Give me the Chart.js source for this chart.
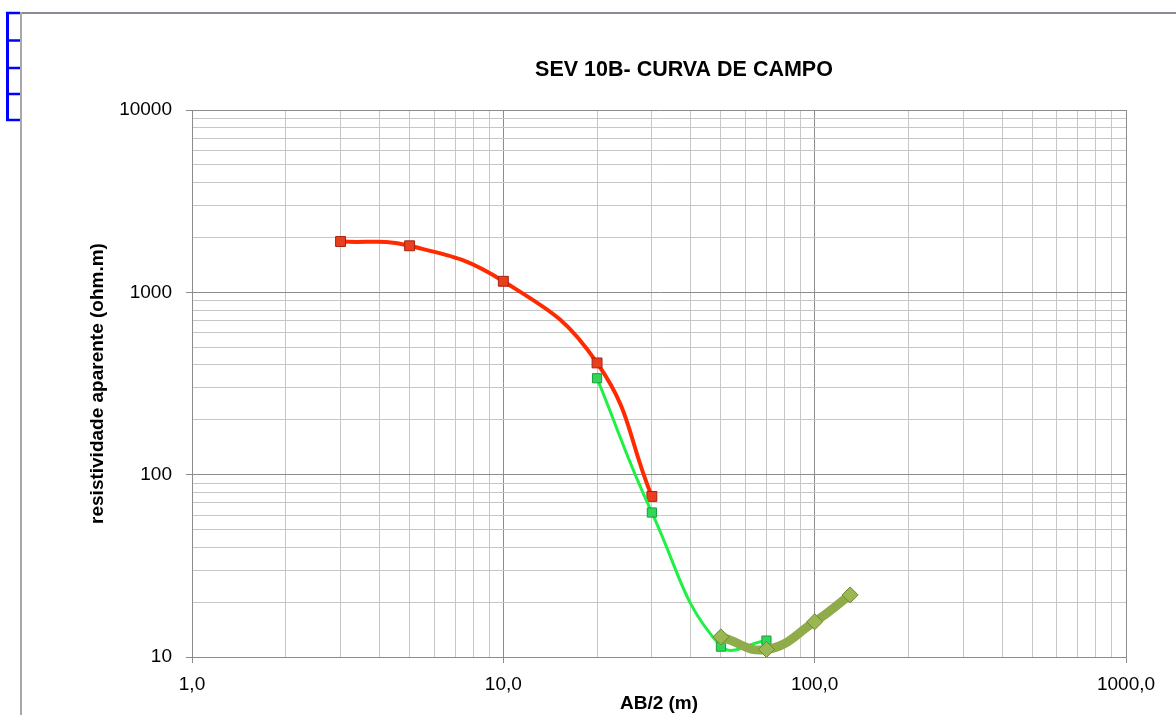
<!DOCTYPE html>
<html><head><meta charset="utf-8">
<script src="https://cdn.jsdelivr.net/npm/chart.js@4/dist/chart.umd.min.js"></script>
<style>html,body{margin:0;padding:0;background:#fff}canvas{display:block}</style>
</head><body>
<canvas id="c" width="1176" height="715"></canvas>
<script>
// ---- data ----
const chartTitle = 'SEV 10B- CURVA DE CAMPO';
const xAxisTitle = 'AB/2 (m)';
const yAxisTitle = 'resistividade aparente (ohm.m)';

const xMajorTicks = [1, 10, 100, 1000];
const xTickLabels = ['1,0', '10,0', '100,0', '1000,0'];
const yMajorTicks = [10, 100, 1000, 10000];
const yTickLabels = ['10', '100', '1000', '10000'];

const redX = [3, 5, 10, 20, 30];
const redY = [1900, 1800, 1150, 410, 76];
const greenX = [20, 30, 50, 70];
const greenY = [338, 62, 11.4, 12.3];
const oliveX = [50, 70, 100, 130];
const oliveY = [12.9, 11.0, 15.6, 21.9];

// ---- helpers ----
function toPoints(xs, ys) { return xs.map((x, i) => ({x: x, y: ys[i]})); }
function logTicks(majors) {
  const out = [];
  for (let i = 0; i < majors.length; i++) {
    out.push(majors[i]);
    if (i < majors.length - 1) for (let k = 2; k <= 9; k++) out.push(majors[i] * k);
  }
  return out;
}
function isMajor(v, majors) { return majors.some(m => Math.abs(m - v) < 1e-9 * m); }

const FONT = "'Liberation Sans', Arial, sans-serif";

const decor = {
  id: 'decor',
  beforeDraw(chart) {
    const ctx = chart.ctx;
    ctx.save();
    ctx.fillStyle = '#fff';
    ctx.fillRect(0, 0, chart.width, chart.height);
    // outer frame lines
    ctx.strokeStyle = '#8a8a98';
    ctx.lineWidth = 2;
    ctx.beginPath(); ctx.moveTo(20, 13); ctx.lineTo(chart.width, 13); ctx.stroke();
    ctx.strokeStyle = '#a8a8a8';
    ctx.beginPath(); ctx.moveTo(21, 12); ctx.lineTo(21, chart.height); ctx.stroke();
    // blue bracket
    ctx.strokeStyle = '#0000ff';
    ctx.lineWidth = 3;
    ctx.beginPath(); ctx.moveTo(7.5, 12); ctx.lineTo(7.5, 121); ctx.stroke();
    ctx.lineWidth = 2.5;
    [13, 40.5, 68, 94, 120].forEach(y => {
      ctx.beginPath(); ctx.moveTo(6, y); ctx.lineTo(20, y); ctx.stroke();
    });
    ctx.restore();
  },
  afterDraw(chart) {
    const ctx = chart.ctx;
    ctx.save();
    ctx.fillStyle = '#000';
    ctx.font = 'bold 21.5px ' + FONT;
    ctx.textAlign = 'center';
    ctx.textBaseline = 'middle';
    ctx.fillText(chartTitle, 684, 70);
    ctx.restore();
  }
};

function gridColor(majors) {
  return c => (c.tick && isMajor(c.tick.value, majors)) ? '#8c8c8c' : '#c6c6c6';
}
function tickColor(majors) {
  return c => (c.tick && isMajor(c.tick.value, majors)) ? '#8c8c8c' : 'rgba(0,0,0,0)';
}

new Chart(document.getElementById('c'), {
  type: 'line',
  data: {
    datasets: [
      {
        label: 'campo 3',
        data: toPoints(oliveX, oliveY),
        order: 0,
        borderColor: '#8fab4a',
        borderWidth: 9,
        tension: 0.45,
        pointStyle: 'rectRot',
        pointRadius: 8,
        pointBackgroundColor: '#9bb652',
        pointBorderColor: '#6e8a30',
        pointBorderWidth: 1,
        fill: false
      },
      {
        label: 'campo 2',
        data: toPoints(greenX, greenY),
        order: 1,
        borderColor: '#1ff046',
        borderWidth: 3,
        tension: 0.45,
        pointStyle: 'rect',
        pointRadius: 6.5,
        pointBackgroundColor: '#2fd659',
        pointBorderColor: '#18a03a',
        pointBorderWidth: 1,
        fill: false
      },
      {
        label: 'campo 1',
        data: toPoints(redX, redY),
        order: 2,
        borderColor: '#ff2a00',
        borderWidth: 4,
        tension: 0.45,
        pointStyle: 'rect',
        pointRadius: 7,
        pointBackgroundColor: '#e8401c',
        pointBorderColor: '#a82010',
        pointBorderWidth: 1,
        fill: false
      }
    ]
  },
  options: {
    responsive: false,
    animation: false,
    events: [],
    layout: {padding: {left: 86, top: 110, right: 50, bottom: 0}},
    plugins: {legend: {display: false}, title: {display: false}, tooltip: {enabled: false}},
    scales: {
      x: {
        type: 'logarithmic',
        min: xMajorTicks[0],
        max: xMajorTicks[xMajorTicks.length - 1],
        afterBuildTicks: s => { s.ticks = logTicks(xMajorTicks).map(v => ({value: v})); },
        afterFit: s => { s.height = 58; },
        ticks: {
          autoSkip: false, maxRotation: 0, minRotation: 0, padding: 10,
          color: '#000', font: {family: FONT, size: 19},
          callback: v => { const i = xMajorTicks.findIndex(m => Math.abs(m - v) < 1e-9 * m); return i >= 0 ? xTickLabels[i] : ''; }
        },
        grid: {color: gridColor(xMajorTicks), tickColor: tickColor(xMajorTicks), tickLength: 6, lineWidth: 1},
        border: {color: '#8c8c8c', width: 1},
        title: {display: true, text: xAxisTitle, color: '#000', font: {family: FONT, size: 19, weight: 'bold'}, padding: {top: 0, bottom: 0}}
      },
      y: {
        type: 'logarithmic',
        min: yMajorTicks[0],
        max: yMajorTicks[yMajorTicks.length - 1],
        afterBuildTicks: s => { s.ticks = logTicks(yMajorTicks).map(v => ({value: v})); },
        afterFit: s => { s.width = 106; },
        ticks: {
          autoSkip: false, padding: 14,
          color: '#000', font: {family: FONT, size: 19},
          callback: v => { const i = yMajorTicks.findIndex(m => Math.abs(m - v) < 1e-9 * m); return i >= 0 ? yTickLabels[i] : ''; }
        },
        grid: {color: gridColor(yMajorTicks), tickColor: tickColor(yMajorTicks), tickLength: 6, lineWidth: 1},
        border: {color: '#8c8c8c', width: 1},
        title: {display: true, text: yAxisTitle, color: '#000', font: {family: FONT, size: 19, weight: 'bold'}, padding: {top: 0, bottom: 0}}
      }
    }
  },
  plugins: [decor]
});
</script>
</body></html>
